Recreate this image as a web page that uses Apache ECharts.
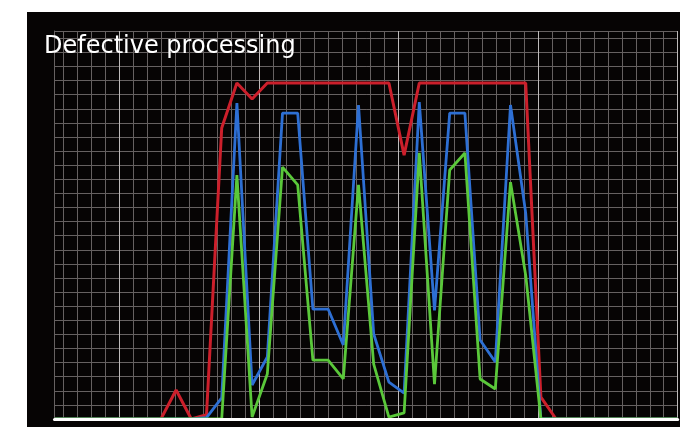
<!DOCTYPE html>
<html>
<head>
<meta charset="utf-8">
<script src="https://cdn.jsdelivr.net/npm/echarts@6/dist/echarts.min.js"></script>
<style>
html,body{margin:0;padding:0;background:#ffffff;}
#c{width:680px;height:427px;}
</style>
</head>
<body>
<div id="c"></div>
<script>
// ---- data (sample index on x, level in grid units on y) ----
const titleText = 'Defective processing';
const samples = ['0','1','2','3','4','5','6','7','8','9','10','11','12','13','14','15','16','17','18','19','20',
                 '21','22','23','24','25','26','27','28','29','30','31','32','33','34','35','36','37','38','39','40','41'];
const redValues = [0,0,0,0,0,0,0, 0,2.06,0,0.3,20.64,23.83,22.7,23.83,23.83,23.83,23.83,23.83,23.83,23.83,23.83,23.83,
                   18.72,23.83,23.83,23.83,23.83,23.83,23.83,23.83,23.83,1.55,0, 0,0,0,0,0,0,0,0];
const blueValues = [0,0,0,0,0,0,0,0,0,0,0.1,1.5,22.41,2.41,4.4,21.7,21.7,7.8,7.8,5.25,22.27,6.03,2.62,
                    1.84,22.48,7.7,21.7,21.7,5.6,4.04,22.27,14.6,0,0, 0,0,0,0,0,0,0,0];
const greenValues = [0,0,0,0,0,0,0,0,0,0,0,0,17.3,0.14,3.19,17.87,16.6,4.18,4.18,2.84,16.6,3.9,0.14,
                     0.43,18.87,2.48,17.66,18.87,2.84,2.13,16.8,10.2,0,0, 0,0,0,0,0,0,0,0];

const chart = echarts.init(document.getElementById('c'), null, {renderer: 'canvas'});
const minorColor = '#666161';
const majorColor = '#bdbaba';
const hidden = {axisLine:{show:false}, axisTick:{show:false}, axisLabel:{show:false}};

const option = {
  animation: false,
  backgroundColor: '#ffffff',
  graphic: [{
    type: 'rect', z: -100, silent: true,
    shape: {x: 27, y: 12, width: 653, height: 415},
    style: {fill: '#060404'}
  }],
  title: {
    text: titleText, left: 39, top: 30,
    textStyle: {color: '#ffffff', fontFamily: 'DejaVu Sans', fontSize: 24, fontWeight: 'normal'}
  },
  grid: [
    {left: 54.5, right: 2.3, top: 31, bottom: 8},
    {left: 63.3, right: 2.3, top: 31, bottom: 8},
    {left: 119.3, right: 2.3, top: 31, bottom: 8}
  ],
  xAxis: [
    Object.assign({type: 'category', gridIndex: 0, data: samples, boundaryGap: false, z: 5}, hidden,
      {axisLine: {show: true, onZero: true, lineStyle: {color: '#ffffff', width: 3}}, splitLine: {show: false}}),
    Object.assign({type: 'value', gridIndex: 1, min: 0, max: 44, interval: 1}, hidden,
      {splitLine: {show: true, lineStyle: {color: minorColor, width: 1}}}),
    Object.assign({type: 'value', gridIndex: 2, min: 0, max: 40, interval: 10}, hidden,
      {splitLine: {show: true, lineStyle: {color: majorColor, width: 1}}})
  ],
  yAxis: [
    Object.assign({type: 'value', gridIndex: 0, min: 0, max: 27.52, interval: 1}, hidden,
      {axisLine: {show: true, lineStyle: {color: minorColor, width: 1}},
       splitLine: {show: true, lineStyle: {color: minorColor, width: 1}}}),
    {type: 'value', gridIndex: 1, show: false},
    {type: 'value', gridIndex: 2, show: false}
  ],
  series: [
    {name: 'red', type: 'line', xAxisIndex: 0, yAxisIndex: 0, data: redValues, symbol: 'none',
     lineStyle: {color: '#cc1f2b', width: 3}, itemStyle: {color: '#cc1f2b'}},
    {name: 'blue', type: 'line', xAxisIndex: 0, yAxisIndex: 0, data: blueValues, symbol: 'none',
     lineStyle: {color: '#2d6fd4', width: 2.8}, itemStyle: {color: '#2d6fd4'}},
    {name: 'green', type: 'line', xAxisIndex: 0, yAxisIndex: 0, data: greenValues, symbol: 'none',
     lineStyle: {color: '#5ac83a', width: 2.8}, itemStyle: {color: '#5ac83a'}}
  ]
};
chart.setOption(option);
</script>
</body>
</html>
